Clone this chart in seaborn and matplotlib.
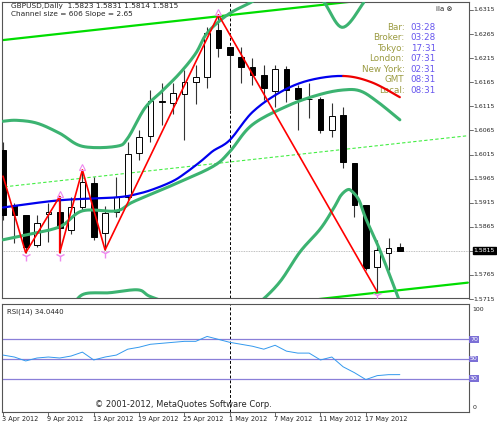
import numpy as np
import pandas as pd
import matplotlib
matplotlib.use("Agg")
import matplotlib.pyplot as plt
import seaborn as sns

sns.set_style("white")
plt.rcParams['font.family'] = ['DejaVu Sans']

opens  = [1.6024,1.5910,1.5889,1.5827,1.5891,1.5896,1.5858,1.5906,1.5956,1.5852,1.5896,1.5927,1.6018,1.6053,1.6124,1.6122,1.6141,1.6166,1.6176,1.6273,1.6238,1.6217,1.6197,1.6180,1.6147,1.6193,1.6153,1.6130,1.6130,1.6066,1.6097,1.5997,1.5910,1.5781,1.5811,1.5823]
highs  = [1.6040,1.5915,1.5889,1.5889,1.5914,1.5928,1.5927,1.5983,1.5968,1.5908,1.5968,1.6041,1.6066,1.6149,1.6164,1.6164,1.6190,1.6200,1.6280,1.6305,1.6238,1.6238,1.6215,1.6201,1.6201,1.6199,1.6159,1.6164,1.6134,1.6122,1.6114,1.5997,1.5910,1.5838,1.5842,1.5831]
lows   = [1.5880,1.5831,1.5811,1.5823,1.5833,1.5811,1.5850,1.5900,1.5837,1.5817,1.5885,1.5920,1.6004,1.6040,1.6076,1.6100,1.6045,1.6120,1.6153,1.6217,1.6107,1.6164,1.6159,1.6128,1.6114,1.6124,1.6066,1.6091,1.6060,1.6051,1.5987,1.5885,1.5775,1.5730,1.5775,1.5814]
closes = [1.5889,1.5889,1.5823,1.5873,1.5896,1.5862,1.5906,1.5958,1.5844,1.5894,1.5927,1.6016,1.6051,1.6126,1.6126,1.6143,1.6166,1.6176,1.6267,1.6236,1.6222,1.6197,1.6180,1.6153,1.6193,1.6149,1.6130,1.6130,1.6066,1.6095,1.6000,1.5910,1.5779,1.5817,1.5821,1.5815]

bb_upper_idx = [0,1.2,3,5,7,10,11,12.5,14,15.6,17,18,19.8,21.8,23,26,28,29.9,31.8]
bb_upper     = [1.6084,1.6086,1.6080,1.6059,1.6032,1.6032,1.6049,1.6111,1.6146,1.6184,1.6225,1.6267,1.6305,1.6330,1.6345,1.6350,1.6340,1.6279,1.6330]
bb_mid_idx = [0,2,5,7,10,11.5,15,18.5,20,22,25.3,28,30,31.5,33,35]
bb_mid     = [1.5838,1.5848,1.5865,1.5898,1.5898,1.5917,1.5952,1.5990,1.6021,1.6077,1.6118,1.6140,1.6149,1.6147,1.6125,1.6087]
bb_low_idx = [5.9,7,9.4,11.9,13,15.6,17,19.2,21,22.5,24.4,26.2,28,29.2,29.8,30.4,30.8,31.4,32,33.3,35]
bb_low     = [1.5688,1.5724,1.5728,1.5734,1.5720,1.5699,1.5688,1.5661,1.5678,1.5705,1.5750,1.5813,1.5861,1.5905,1.5930,1.5942,1.5938,1.5920,1.5882,1.5813,1.5709]
ma_idx = [0,5,10,12,13.5,15,16,17.4,18.5,20,22,24.5,27,30,32.5,35]
ma     = [1.5905,1.5920,1.5926,1.5934,1.5945,1.5960,1.5975,1.6000,1.6022,1.6045,1.6103,1.6145,1.6169,1.6178,1.6165,1.6134]
ma_red_from = 30

zz_idx = [0,2,5,5,7,9,19,33]
zz_val = [1.5970,1.5811,1.5928,1.5811,1.5983,1.5817,1.6305,1.5730]

ch_idx = [-1,41]
ch_top = [1.6250,1.6359]
ch_mid = [1.5945,1.6054]
ch_bot = [1.5640,1.5749]

rsi = [54,52,48,51,52,51,53,57,49,52,54,60,62,65,66,67,68,68,73,70,67,65,63,60,64,58,56,56,49,52,42,36,29,33,34,34.04]

date_labels = ["3 Apr 2012","9 Apr 2012","13 Apr 2012","19 Apr 2012","25 Apr 2012","1 May 2012","7 May 2012","11 May 2012","17 May 2012"]
price_ticks = [1.6315,1.6265,1.6215,1.6165,1.6115,1.6065,1.6015,1.5965,1.5915,1.5865,1.5815,1.5765,1.5715]
clock_labels = ["Bar:","Broker:","Tokyo:","London:","New York:","GMT","Local:"]
clock_values = ["03:28","03:28","17:31","07:31","02:31","08:31","08:31"]


def smooth(xs, ys, n=12):
    # Catmull-Rom rendering of the read points (drawing only)
    xs = np.asarray(xs, float); ys = np.asarray(ys, float)
    P = np.column_stack([xs, ys])
    P = np.vstack([P[0], P, P[-1]])
    out = []
    t = np.linspace(0, 1, n, endpoint=False)[:, None]
    for i in range(1, len(P) - 2):
        p0, p1, p2, p3 = P[i-1], P[i], P[i+1], P[i+2]
        seg = 0.5 * ((2*p1) + (-p0 + p2)*t + (2*p0 - 5*p1 + 4*p2 - p3)*t**2 + (-p0 + 3*p1 - 3*p2 + p3)*t**3)
        out.append(seg)
    out.append(P[-2][None, :])
    out = np.vstack(out)
    return out[:, 0], out[:, 1]


fig = plt.figure(figsize=(4.97,4.26), dpi=100)
W, H = 497, 426
ax = fig.add_axes([2/W, 1-298/H, 467/W, 296/H])
ar = fig.add_axes([2/W, 1-412/H, 467/W, 108/H])
xl = (-0.09, 41.1)
for a in (ax, ar):
    a.set_xlim(*xl)
    for s in a.spines.values():
        s.set_color('#555555'); s.set_linewidth(0.8)
    a.set_xticks([]); a.set_yticks([])
ax.set_ylim(1.57171, 1.63316)
ar.set_ylim(-4.1, 106.1)

idx = np.arange(len(opens))
for i in idx:
    o, h, l, c = opens[i], highs[i], lows[i], closes[i]
    ax.vlines(i, l, h, color='#333333', lw=0.8, zorder=3)
    lo, hi = min(o, c), max(o, c)
    hgt = max(hi - lo, 0.00006)
    ax.bar(i, hgt, bottom=lo, width=0.5, color='black' if c < o else 'white',
           edgecolor='black', linewidth=0.7, zorder=4)

g = '#3cb371'
for xs, ys in ((bb_upper_idx, bb_upper), (bb_mid_idx, bb_mid), (bb_low_idx, bb_low)):
    sx, sy = smooth(xs, ys)
    ax.plot(sx, sy, color=g, lw=2.2, zorder=5)
k = ma_idx.index(ma_red_from)
sx, sy = smooth(ma_idx, ma)
ax.plot(sx[sx <= ma_red_from + 0.01], sy[sx <= ma_red_from + 0.01], color='#0000ee', lw=1.6, zorder=6)
ax.plot(sx[sx >= ma_red_from - 0.01], sy[sx >= ma_red_from - 0.01], color='#ee0000', lw=1.6, zorder=6)
ax.plot(zz_idx, zz_val, color='#ff0000', lw=1.2, zorder=7)
sns.lineplot(x=ch_idx, y=ch_top, ax=ax, color='#00dd00', lw=1.6, zorder=2)
sns.lineplot(x=ch_idx, y=ch_bot, ax=ax, color='#00dd00', lw=1.6, zorder=2)
ax.plot(ch_idx, ch_mid, color='#44ee44', lw=0.8, ls=(0, (3, 2)), zorder=2)
for xi, v in zip(zz_idx[1:], zz_val[1:]):
    if abs(v - highs[xi]) < 1e-6:
        ax.plot(xi, v + 0.0006, marker='^', ms=5, mfc='none', mec='#ee88ee', mew=0.8, zorder=8)
    else:
        ax.plot(xi, v - 0.0007, marker='1', ms=7, color='#ee88ee', mew=1.0, zorder=8)

ax.axhline(closes[-1], color='#aaaaaa', lw=0.6, ls=(0, (1, 1)), zorder=1)
for a in (ax, ar):
    a.axvline(20, color='black', lw=0.7, ls=(0, (3, 2)), zorder=1)

ax.text(0.02, 0.995, "GBPUSD,Daily  1.5823 1.5831 1.5814 1.5815", transform=ax.transAxes,
        fontsize=5.3, va='top', ha='left')
ax.text(0.02, 0.968, "Channel size = 606 Slope = 2.65", transform=ax.transAxes,
        fontsize=5.3, va='top', ha='left')
ax.text(0.965, 0.985, "ila \u2297", transform=ax.transAxes, fontsize=5, va='top', ha='right')

for j, (lab, val) in enumerate(zip(clock_labels, clock_values)):
    yy = 0.915 - j * 0.0355
    ax.text(0.862, yy, lab, transform=ax.transAxes, fontsize=6.3, ha='right', va='center', color='#9a9a40')
    ax.text(0.875, yy, val, transform=ax.transAxes, fontsize=6.3, ha='left', va='center', color='#6655ee')

for p in price_ticks:
    ax.plot([1.0, 1.008], [p, p], transform=ax.get_yaxis_transform(), color='#555555', lw=0.6, clip_on=False)
    if abs(p - closes[-1]) < 1e-6:
        ax.text(1.010, p, "1.5815", transform=ax.get_yaxis_transform(), fontsize=4.5, color='white',
                va='center', ha='left', bbox=dict(boxstyle='square,pad=0.15', fc='black', ec='black'))
    else:
        ax.text(1.010, p, f"{p:.4f}", transform=ax.get_yaxis_transform(), fontsize=4.5, va='center', ha='left')

sns.lineplot(x=idx, y=rsi, ax=ar, color='#3399ee', lw=0.7, zorder=3)
for lv in (70, 50, 30):
    ar.axhline(lv, color='#8a7fd8', lw=0.9, zorder=2)
    ar.text(1.002, lv, str(lv), transform=ar.get_yaxis_transform(), fontsize=4.5, color='white',
            va='center', ha='left', bbox=dict(boxstyle='square,pad=0.12', fc='#7b6fd6', ec='none'))
ar.text(1.008, 100, "100", transform=ar.get_yaxis_transform(), fontsize=4.5, va='center', ha='left')
ar.text(1.008, 0, "0", transform=ar.get_yaxis_transform(), fontsize=4.5, va='center', ha='left')
ar.text(0.01, 0.96, "RSI(14) 34.0440", transform=ar.transAxes, fontsize=5, va='top', ha='left')
ar.text(0.2, 0.03, "\u00a9 2001-2012, MetaQuotes Software Corp.", transform=ar.transAxes,
        fontsize=6, va='bottom', ha='left')

for j, lab in enumerate(date_labels):
    xi = j * 4
    ar.plot([xi, xi], [0, -0.04], transform=ar.get_xaxis_transform(), color='#555555', lw=0.6, clip_on=False)
    ar.text(xi - 0.1, -0.04, lab, transform=ar.get_xaxis_transform(), fontsize=4.7, va='top', ha='left')

fig.savefig("out.png", dpi=100)
